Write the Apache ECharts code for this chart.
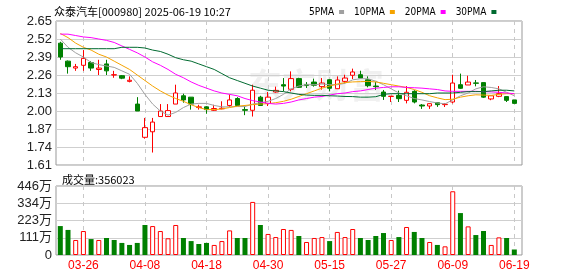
<!DOCTYPE html>
<html><head><meta charset="utf-8">
<script src="https://cdn.jsdelivr.net/npm/echarts@6/dist/echarts.min.js"></script>
<style>html,body{margin:0;padding:0;background:#fff}#c{width:578px;height:276px}</style>
</head><body><div id="c"></div>
<script>
const dates = ['03-21','03-24','03-25','03-26','03-27','03-28','03-31','04-01','04-02','04-03',
'04-07','04-08','04-09','04-10','04-11','04-14','04-15','04-16','04-17','04-18',
'04-21','04-22','04-23','04-24','04-25','04-28','04-29','04-30','05-06','05-07',
'05-08','05-09','05-12','05-13','05-14','05-15','05-16','05-19','05-20','05-21',
'05-22','05-23','05-26','05-27','05-28','05-29','05-30','06-03','06-04','06-05',
'06-06','06-09','06-10','06-11','06-12','06-13','06-16','06-17','06-18','06-19'];
const opens = [2.49,2.36,2.31,2.33,2.35,2.30,2.34,2.26,2.255,2.214,
2.05,1.81,1.85,1.96,1.96,2.05,2.11,2.10,2.025,2.03,
2.005,2.016,2.04,2.09,2.01,2.005,2.10,2.055,2.137,2.19,
2.157,2.234,2.19,2.209,2.176,2.226,2.161,2.214,2.258,2.262,
2.226,2.18,2.137,2.105,2.113,2.077,2.142,2.043,2.036,2.06,
2.046,2.065,2.19,2.188,2.203,2.205,2.087,2.106,2.104,2.08];
const closes = [2.39,2.32,2.32,2.38,2.31,2.31,2.29,2.262,2.237,2.222,
2.00,1.88,1.92,2.00,2.003,2.13,2.08,2.05,2.03,2.01,
2.018,2.02,2.08,2.04,2.005,2.15,2.04,2.10,2.149,2.18,
2.234,2.171,2.185,2.186,2.202,2.164,2.224,2.238,2.282,2.238,
2.183,2.176,2.106,2.107,2.089,2.135,2.065,2.036,2.053,2.046,
2.049,2.202,2.164,2.209,2.20,2.10,2.11,2.125,2.077,2.055];
const lows = [2.37,2.27,2.29,2.29,2.29,2.26,2.26,2.24,2.23,2.207,
2.00,1.80,1.70,1.96,1.96,2.05,2.06,2.01,2.01,1.98,
2.00,2.012,2.03,2.04,1.97,1.96,2.04,2.036,2.132,2.142,
2.142,2.166,2.166,2.176,2.154,2.142,2.16,2.20,2.231,2.238,
2.171,2.152,2.08,2.065,2.065,2.055,2.055,2.015,2.015,2.03,
2.029,2.055,2.16,2.188,2.178,2.095,2.078,2.10,2.065,2.055];
const highs = [2.50,2.365,2.34,2.44,2.36,2.37,2.37,2.29,2.26,2.25,
2.10,1.95,1.95,2.05,2.05,2.19,2.125,2.10,2.045,2.035,
2.045,2.07,2.12,2.10,2.03,2.19,2.11,2.137,2.176,2.238,
2.286,2.24,2.209,2.234,2.238,2.23,2.25,2.262,2.306,2.291,
2.25,2.209,2.152,2.107,2.147,2.18,2.15,2.05,2.055,2.06,
2.058,2.262,2.27,2.255,2.224,2.205,2.112,2.18,2.104,2.08];
// volume in 万
const volumes = [187,162,97,155,103,97,110,97,78,65,
78,194,187,155,108,194,110,90,71,78,
65,90,159,110,110,343,194,136,116,168,
162,123,84,110,116,90,149,116,168,110,
97,123,142,97,116,181,149,110,84,65,
56,412,271,185,129,155,65,114,110,35.6];
// 1 = rising day (red hollow), 0 = falling day (green)
const volUp = [0,0,1,1,0,1,0,0,0,0, 0,0,1,1,1,1,0,0,0,0, 1,1,1,0,0,1,0,1,1,1,
1,0,1,1,1,0,1,1,1,0, 0,0,0,1,0,1,0,0,1,0, 1,1,0,1,0,0,1,1,0,0];
const ma5 = [2.52,2.46,2.42,2.39,2.35,2.335,2.325,2.315,2.29,2.265,
2.20,2.12,2.05,2.00,1.97,1.99,2.025,2.05,2.055,2.055,
2.04,2.03,2.03,2.032,2.032,2.05,2.06,2.07,2.09,2.12,
2.16,2.18,2.19,2.19,2.195,2.19,2.19,2.20,2.225,2.233,
2.233,2.215,2.19,2.16,2.13,2.11,2.09,2.08,2.068,2.058,
2.052,2.08,2.11,2.13,2.16,2.175,2.17,2.16,2.135,2.11];
const ma10 = [2.56,2.53,2.49,2.46,2.44,2.41,2.39,2.36,2.33,2.30,
2.26,2.22,2.18,2.145,2.115,2.09,2.07,2.045,2.025,2.01,
2.01,2.015,2.025,2.035,2.04,2.046,2.05,2.053,2.06,2.07,
2.085,2.105,2.125,2.145,2.165,2.18,2.195,2.205,2.21,2.212,
2.214,2.21,2.20,2.19,2.18,2.17,2.155,2.135,2.11,2.095,
2.082,2.085,2.10,2.11,2.117,2.115,2.113,2.12,2.125,2.125];
const ma20 = [2.555,2.555,2.545,2.535,2.53,2.52,2.51,2.495,2.47,2.445,
2.42,2.39,2.355,2.33,2.30,2.265,2.24,2.21,2.185,2.165,
2.145,2.13,2.12,2.11,2.09,2.075,2.065,2.055,2.05,2.055,
2.065,2.08,2.09,2.10,2.105,2.115,2.125,2.13,2.14,2.145,
2.155,2.165,2.17,2.175,2.175,2.17,2.168,2.165,2.16,2.155,
2.145,2.142,2.142,2.142,2.142,2.14,2.138,2.135,2.13,2.125];
const ma30 = [2.45,2.45,2.45,2.45,2.45,2.45,2.45,2.45,2.46,2.46,
2.46,2.455,2.44,2.43,2.41,2.385,2.37,2.36,2.34,2.32,
2.30,2.27,2.24,2.22,2.20,2.18,2.165,2.15,2.145,2.14,
2.13,2.12,2.115,2.113,2.113,2.11,2.108,2.105,2.104,2.10,
2.10,2.103,2.12,2.125,2.125,2.125,2.125,2.125,2.125,2.13,
2.13,2.13,2.135,2.14,2.14,2.14,2.145,2.15,2.15,2.145];
const priceTicks = ['1.61','1.74','1.87','2.00','2.13','2.26','2.39','2.52','2.65'];
const volTicks = ['0','111万','223万','334万','446万'];
const labelIdx = [3,11,19,27,35,43,51,59];
const titleText = '众泰汽车[000980] 2025-06-19 10:27';
const volTitle = '成交量:356023';

const RED = '#ff0000', GREEN = '#008000';
const priceVals = priceTicks.map(Number);
const volVals = volTicks.map((t,i)=> i*111.5);

const chart = echarts.init(document.getElementById('c'), null, {renderer:'canvas'});
const xCommon = {
  type:'value', min:-0.56, max:60,
  axisLine:{show:false},
  axisTick:{show:false, customValues: labelIdx},
  splitLine:{show:true, lineStyle:{color:'#c8c8c8', type:[4,4], width:1}}
};
chart.setOption({
  animation:false,
  title:[
    {text:titleText, left:49, top:1, textStyle:{fontSize:11, fontWeight:'normal', color:'#000', fontFamily:"'Noto Sans CJK SC', sans-serif"}},
    {text:volTitle, left:57, top:169, textStyle:{fontSize:11, fontWeight:'normal', color:'#000', fontFamily:"'Noto Sans CJK SC', sans-serif"}}
  ],
  legend:{
    left:304, top:2, align:'right', icon:'rect', itemWidth:5, itemHeight:4, itemGap:10,
    textStyle:{fontSize:10, color:'#000', fontFamily:"'Liberation Sans Narrow','DejaVu Sans Condensed',sans-serif", padding:[0,0,0,0]},
    data:['5PMA','10PMA','20PMA','30PMA']
  },
  graphic:[{type:'text', left:248, top:68, z:0, silent:true,
    style:{text:'东方财富', font:"bold 34px 'Noto Sans CJK SC'", fill:'rgba(0,0,0,0.06)'}}],
  grid:[
    {left:56, right:56, top:21, height:144, show:true, borderColor:'#999', borderWidth:1, backgroundColor:'transparent'},
    {left:56, right:56, top:186, height:69, show:true, borderColor:'#999', borderWidth:1, backgroundColor:'transparent'}
  ],
  xAxis:[
    Object.assign({gridIndex:0, axisLabel:{show:false}}, xCommon),
    Object.assign({gridIndex:1, axisLabel:{show:true, customValues: labelIdx, color:RED, fontSize:12, margin:5,
      fontFamily:"'Liberation Sans', sans-serif", formatter:(v)=>dates[Math.round(v)]}}, xCommon)
  ],
  yAxis:[
    {type:'value', gridIndex:0, min:1.61, max:2.65, interval:0.13, scale:true,
     axisLine:{show:false}, axisTick:{show:false, customValues: priceVals},
     axisLabel:{customValues: priceVals, color:'#222', fontSize:13, margin:4, fontFamily:"'Liberation Sans', sans-serif",
       formatter:(v)=>priceTicks[Math.round((v-1.61)/0.13)]},
     splitLine:{lineStyle:{color:'#cfcfcf', width:1}}},
    {type:'value', gridIndex:1, min:0, max:446, interval:111.5,
     axisLine:{show:false}, axisTick:{show:false, customValues: volVals},
     axisLabel:{customValues: volVals, color:'#222', fontSize:13, margin:4, fontFamily:"'Liberation Sans','Noto Sans CJK SC', sans-serif",
       formatter:(v)=>volTicks[Math.round(v/111.5)]},
     splitLine:{lineStyle:{color:'#cfcfcf', width:1}}}
  ],
  series:[
    {type:'candlestick', xAxisIndex:0, yAxisIndex:0, barWidth:5, z:2,
     data: dates.map((d,i)=>[i, opens[i], closes[i], lows[i], highs[i]]),
     itemStyle:{color:'#fff', color0:GREEN, borderColor:RED, borderColor0:GREEN, borderWidth:1}},
    {name:'5PMA', type:'line', xAxisIndex:0, yAxisIndex:0, showSymbol:false, z:3, color:'#a0a0a0',
     lineStyle:{width:1, color:'#a0a0a0'}, data: ma5.map((v,i)=>[i,v])},
    {name:'10PMA', type:'line', xAxisIndex:0, yAxisIndex:0, showSymbol:false, z:3, color:'#f5a300',
     lineStyle:{width:1, color:'#f5a300'}, data: ma10.map((v,i)=>[i,v])},
    {name:'20PMA', type:'line', xAxisIndex:0, yAxisIndex:0, showSymbol:false, z:3, color:'#ff00ff',
     lineStyle:{width:1, color:'#ff00ff'}, data: ma20.map((v,i)=>[i,v])},
    {name:'30PMA', type:'line', xAxisIndex:0, yAxisIndex:0, showSymbol:false, z:3, color:'#006a30',
     lineStyle:{width:1, color:'#006a30'}, data: ma30.map((v,i)=>[i,v])},
    {type:'bar', xAxisIndex:1, yAxisIndex:1, barWidth:5,
     data: volumes.map((v,i)=>({value:[i,v], itemStyle: volUp[i] ? {color:'#fff', borderColor:RED, borderWidth:1} : {color:GREEN}}))}
  ]
});
</script>
</body></html>
